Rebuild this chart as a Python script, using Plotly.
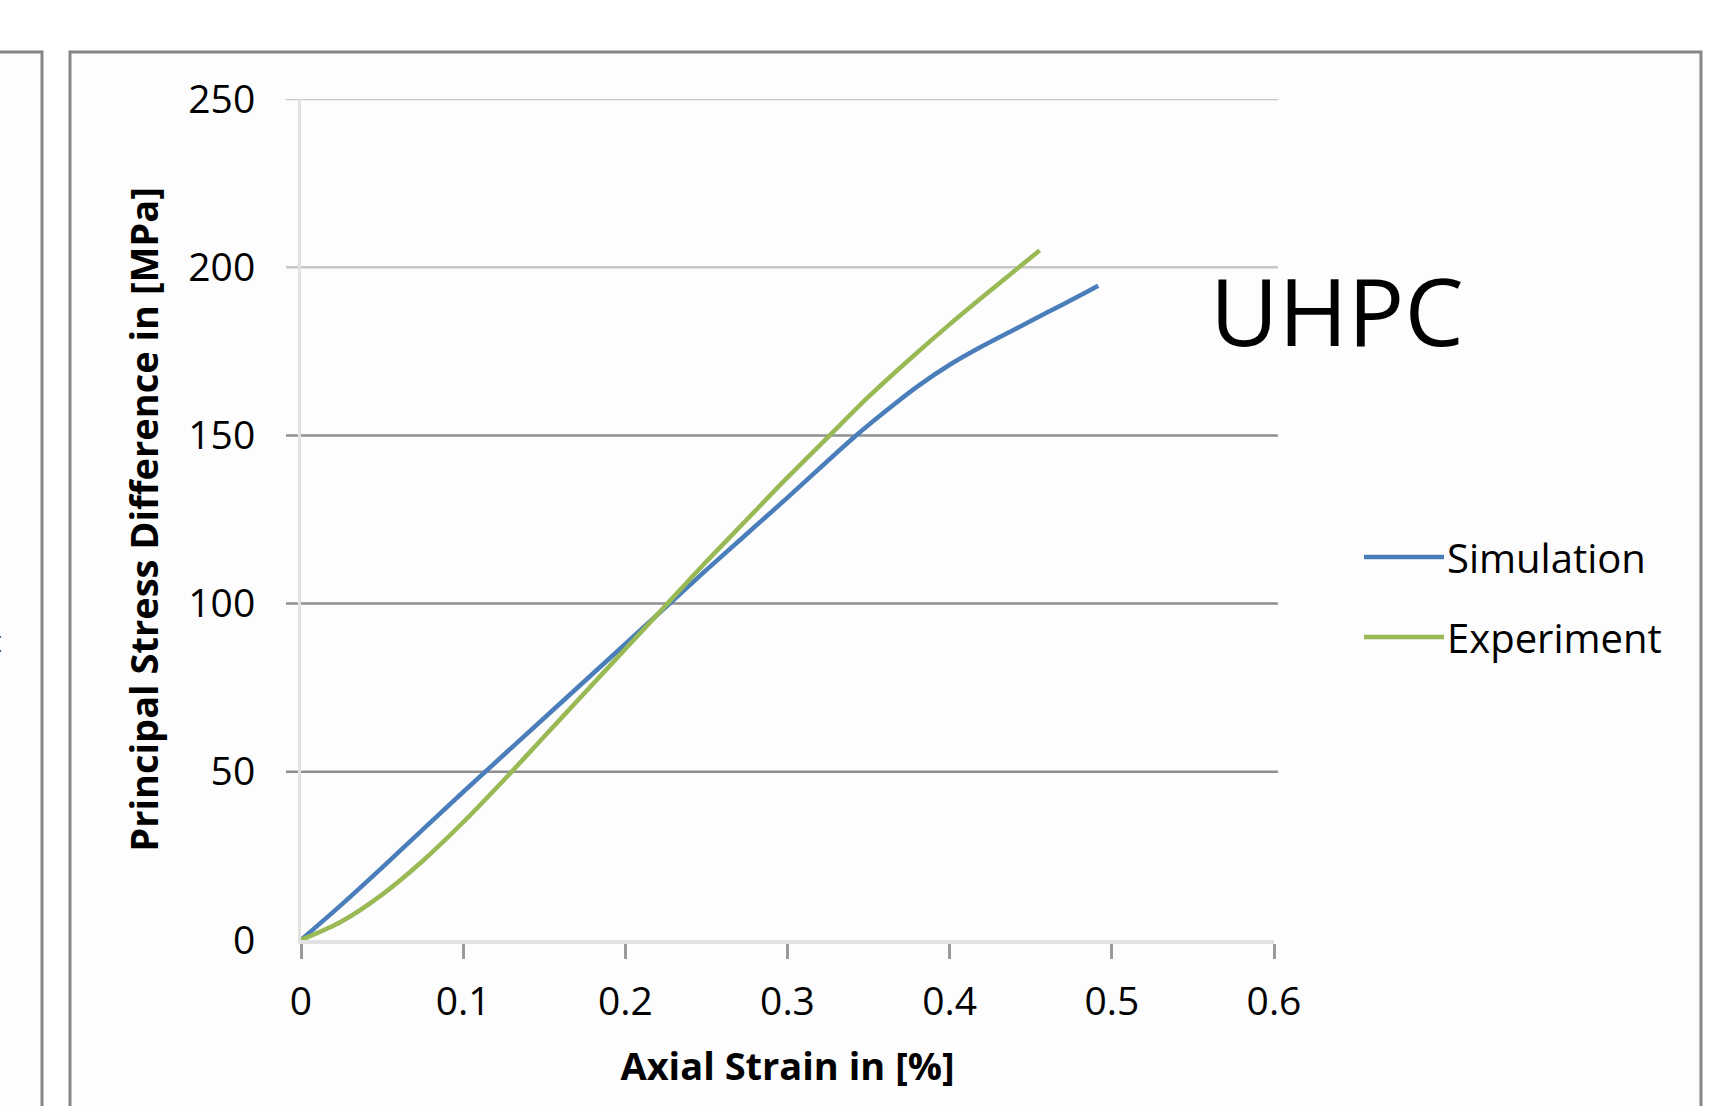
import plotly.graph_objects as go

# ---- data ----
sim_strain = [0, 0.025, 0.05, 0.1, 0.15, 0.2, 0.25, 0.3, 0.34, 0.36, 0.38, 0.4, 0.42, 0.44, 0.46, 0.48, 0.4916]
sim_stress = [0, 10.5, 21.5, 44, 66, 88, 110, 131.5, 149, 157, 164.5, 171, 176.5, 181.5, 186.5, 191.5, 194.5]

exp_strain = [0, 0.025, 0.05, 0.075, 0.1, 0.125, 0.15, 0.175, 0.2, 0.225, 0.25, 0.275, 0.3, 0.325, 0.35, 0.375, 0.4, 0.425, 0.4555]
exp_stress = [0, 5.5, 13.5, 23.5, 35, 47.5, 60.5, 73.5, 86.5, 99.5, 112.5, 125, 137.5, 149.5, 161.5, 172.5, 183, 193, 205]

x_ticks = [0, 0.1, 0.2, 0.3, 0.4, 0.5, 0.6]
x_tick_labels = ["0", "0.1", "0.2", "0.3", "0.4", "0.5", "0.6"]
y_ticks = [0, 50, 100, 150, 200, 250]
y_tick_labels = ["0", "50", "100", "150", "200", "250"]
grid_levels = [50, 100, 150, 200, 250]
grid_colors = ["#8f8f8f", "#8f8f8f", "#8f8f8f", "#c6c6c6", "#c6c6c6"]

series_names = ["Simulation", "Experiment"]
series_colors = ["#4a7ebb", "#98b954"]

W, H = 1735, 1106
L, R, T, B = 301, 1274, 99, 940   # plot area in pixels
FONT = "Open Sans"

def px(p):
    return (p - L) / (R - L)

def py(p):
    return (B - p) / (B - T)

fig = go.Figure()
fig.add_trace(go.Scatter(x=sim_strain, y=sim_stress, mode="lines", name=series_names[0],
                         line=dict(color=series_colors[0], width=4.5, shape="spline", smoothing=0.8),
                         showlegend=False))
fig.add_trace(go.Scatter(x=exp_strain, y=exp_stress, mode="lines", name=series_names[1],
                         line=dict(color=series_colors[1], width=4.5, shape="spline", smoothing=0.8),
                         showlegend=False))

shapes = []
# panels (frames)
shapes.append(dict(type="rect", xref="paper", yref="paper", x0=px(70), x1=px(1701), y0=py(52), y1=py(1120),
                   line=dict(color="#868686", width=3), fillcolor="#fdfdfd", layer="below"))
shapes.append(dict(type="rect", xref="paper", yref="paper", x0=px(-20), x1=px(42), y0=py(52), y1=py(1120),
                   line=dict(color="#868686", width=3), fillcolor="#fdfdfd", layer="below"))
# gridlines
for lv, c in zip(grid_levels, grid_colors):
    shapes.append(dict(type="line", xref="x domain", yref="y", x0=-15 / (R - L), x1=1.004, y0=lv, y1=lv,
                       line=dict(color=c, width=2.5), layer="below"))

# manual legend
legend_y = [557, 637]
for name, col, ly in zip(series_names, series_colors, legend_y):
    shapes.append(dict(type="line", xref="paper", yref="paper", x0=px(1364), x1=px(1444), y0=py(ly), y1=py(ly),
                       line=dict(color=col, width=4.5)))

annotations = []
for name, ly in zip(series_names, legend_y):
    annotations.append(dict(text=name, xref="paper", yref="paper", x=px(1445), y=py(ly), xanchor="left",
                            yanchor="middle", showarrow=False, font=dict(family=FONT, size=40, color="#000000")))
annotations.append(dict(text="UHPC", xref="paper", yref="paper", x=px(1337), y=py(310), xanchor="center",
                        yanchor="middle", showarrow=False, font=dict(family=FONT, size=94, color="#000000")))
annotations.append(dict(text="t", xref="paper", yref="paper", x=px(4), y=py(640), xanchor="right",
                        yanchor="middle", showarrow=False, font=dict(family=FONT, size=30, color="#444444")))

fig.update_layout(
    width=W, height=H,
    margin=dict(l=L, r=W - R, t=T, b=H - B, pad=0),
    paper_bgcolor="#ffffff",
    plot_bgcolor="rgba(0,0,0,0)",
    shapes=shapes,
    annotations=annotations,
    showlegend=False,
    font=dict(family=FONT, color="#000000"),
)
fig.update_xaxes(
    range=[0, 0.6], tickvals=x_ticks, ticktext=x_tick_labels,
    showgrid=False, zeroline=False,
    showline=True, linecolor="#e2e2e2", linewidth=4,
    ticks="outside", ticklen=15, tickwidth=2.5, tickcolor="#9a9a9a",
    ticklabelstandoff=9,
    tickfont=dict(family=FONT, size=39, color="#000000"),
    title=dict(text="<b>Axial Strain in [%]</b>", font=dict(family=FONT, size=38, color="#000000"), standoff=30),
    layer="below traces",
)
fig.update_yaxes(
    range=[0, 250], tickvals=y_ticks, ticktext=y_tick_labels,
    showgrid=False, zeroline=False,
    showline=True, linecolor="#e2e2e2", linewidth=3,
    ticks="", ticklabelstandoff=35,
    tickfont=dict(family=FONT, size=39, color="#000000"),
    title=dict(text="<b>Principal Stress Difference in [MPa]</b>", font=dict(family=FONT, size=38, color="#000000"), standoff=18),
    layer="below traces",
)

fig.write_html("out.html")
